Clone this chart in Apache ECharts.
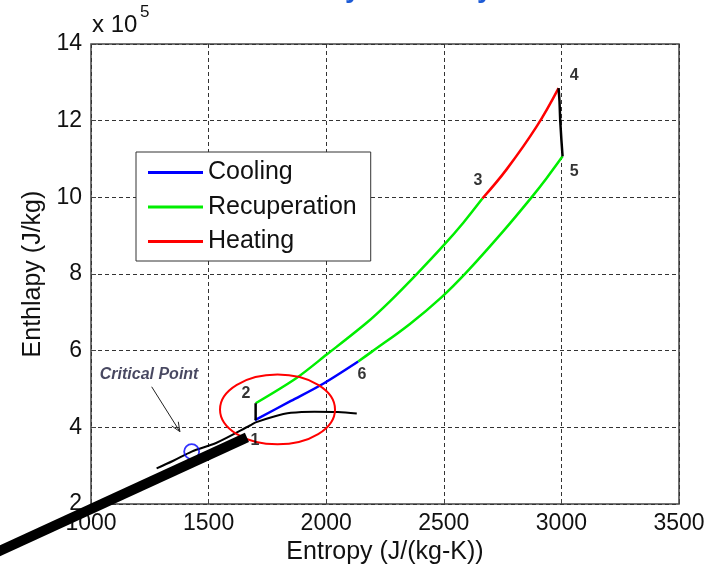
<!DOCTYPE html>
<html>
<head>
<meta charset="utf-8">
<script src="https://cdn.jsdelivr.net/npm/echarts@6/dist/echarts.min.js"></script>
<style>html,body{margin:0;padding:0;background:#fff;}#c{width:720px;height:570px;}</style>
</head>
<body>
<div id="c"></div>
<script>
// Axis ticks
const xTicks = [1000, 1500, 2000, 2500, 3000, 3500];
const yTicks = [200000, 400000, 600000, 800000, 1000000, 1200000, 1400000];

// Saturation dome (black)
const domeS = [1279, 1350, 1428, 1534, 1676, 1700, 1775, 1850, 1950, 2050, 2130];
const domeH = [293000, 313000, 337000, 360000, 405000, 413000, 428000, 438000, 441000, 440000, 436000];

// Cooling (blue) 1 -> 6
const coolS = [1697, 1850, 1987, 2136];
const coolH = [419000, 469000, 514000, 572000];

// Recuperation (green) 2 -> 3 (high pressure side)
const recHiS = [1700, 1874, 2002, 2172, 2271, 2385, 2498, 2583, 2664];
const recHiH = [463000, 529000, 590000, 673000, 729000, 800000, 874000, 934000, 997000];

// Recuperation (green) 6 -> 5 (low pressure side)
const recLoS = [2136, 2193, 2356, 2491, 2597, 2753, 2873, 2937, 3005];
const recLoH = [572000, 597000, 670000, 740000, 805000, 912000, 1000000, 1050000, 1107000];

// Heating (red) 3 -> 4
const heatS = [2664, 2767, 2895, 2988];
const heatH = [997000, 1073000, 1185000, 1285000];

// Compression 1 -> 2 (black vertical)
const compS = [1700, 1700];
const compH = [419000, 463000];

// Expansion 4 -> 5 (black)
const expS = [2988, 2992, 2995, 3000, 3005];
const expH = [1285000, 1250000, 1200000, 1150000, 1107000];

// Critical point marker
const critS = [1428];
const critH = [337000];

// State point labels
const ptNames = ['1', '2', '3', '4', '5', '6'];
const ptS = [1697, 1659, 2645, 3054, 3054, 2152];
const ptH = [366000, 488000, 1044000, 1317000, 1068000, 538000];

// Annotations (data coords)
const critLabel = ['Critical Point', 1247, 537600];
const critArrow = [1258, 506000, 1378, 389000];
const ellipse = [1793, 446800, 244.5, 91000];
const pointer = [528, 54500, 1663, 374000];

const zip = (a, b) => a.map((v, i) => [v, b[i]]);

const chart = echarts.init(document.getElementById('c'), null, {renderer: 'canvas'});
const FONT = 'Liberation Sans, Arial, sans-serif';

chart.setOption({
  animation: false,
  backgroundColor: '#fff',
  grid: {left: 91, right: 41, top: 44, bottom: 64, show: true, borderColor: '#444', borderWidth: 1.5, backgroundColor: '#fff'},
  legend: {
    data: ['Cooling', 'Recuperation', 'Heating'],
    orient: 'vertical', left: 136, top: 152,
    padding: [8, 14, 7, 12],
    itemWidth: 55, itemHeight: 3, itemGap: 9.5,
    icon: 'rect',
    backgroundColor: '#fff', borderColor: '#333', borderWidth: 1,
    textStyle: {fontSize: 25, lineHeight: 24, color: '#111', fontFamily: FONT}
  },
  xAxis: {
    type: 'value', min: 1000, max: 3500, interval: 500,
    name: 'Entropy (J/(kg-K))', nameLocation: 'middle', nameGap: 35,
    nameTextStyle: {fontSize: 25, color: '#111', fontFamily: FONT},
    axisLine: {show: false},
    axisTick: {show: true, inside: true, length: 5, lineStyle: {color: '#444'}},
    axisLabel: {fontSize: 23, color: '#111', margin: 8, fontFamily: FONT, formatter: v => String(v)},
    splitLine: {show: true, lineStyle: {color: '#333', type: [4, 3], width: 1}}
  },
  yAxis: {
    type: 'value', min: 200000, max: 1400000, interval: 200000,
    name: 'Enthlapy (J/kg)', nameLocation: 'middle', nameGap: 43,
    nameTextStyle: {fontSize: 25, color: '#111', fontFamily: FONT},
    axisLine: {show: false},
    axisTick: {show: true, inside: true, length: 5, lineStyle: {color: '#444'}},
    axisLabel: {fontSize: 23, color: '#111', margin: 9, fontFamily: FONT, formatter: v => String(v / 100000)},
    splitLine: {show: true, lineStyle: {color: '#333', type: [4, 3], width: 1}}
  },
  graphic: [
    {type: 'text', left: 92, top: 13, style: {text: 'x 10', fontSize: 24, fill: '#111', fontFamily: FONT}},
    {type: 'text', left: 140, top: 4, style: {text: '5', fontSize: 17, fill: '#111', fontFamily: FONT}},
    {type: 'text', x: 345, y: 3, style: {text: 'y', fontSize: 28, fontWeight: 'bold', fill: '#1d5bd6', fontFamily: FONT, verticalAlign: 'bottom'}},
    {type: 'text', x: 477, y: 3, style: {text: 'y', fontSize: 28, fontWeight: 'bold', fill: '#1d5bd6', fontFamily: FONT, verticalAlign: 'bottom'}}
  ],
  series: [
    {name: 'dome', type: 'line', data: zip(domeS, domeH), smooth: 0.3, symbol: 'none',
     lineStyle: {color: '#000', width: 2}, z: 3},
    {name: 'Cooling', type: 'line', data: zip(coolS, coolH), symbol: 'none', smooth: 0.3,
     lineStyle: {color: '#0000ff', width: 2.5}, itemStyle: {color: '#0000ff'}, z: 4},
    {name: 'Recuperation', type: 'line', data: zip(recHiS, recHiH), symbol: 'none', smooth: 0.3,
     lineStyle: {color: '#00ee00', width: 2.5}, itemStyle: {color: '#00ee00'}, z: 4},
    {name: 'Recuperation', type: 'line', data: zip(recLoS, recLoH), symbol: 'none', smooth: 0.4,
     lineStyle: {color: '#00ee00', width: 2.5}, itemStyle: {color: '#00ee00'}, z: 4},
    {name: 'Heating', type: 'line', data: zip(heatS, heatH), symbol: 'none', smooth: 0.4,
     lineStyle: {color: '#ff0000', width: 2.5}, itemStyle: {color: '#ff0000'}, z: 4},
    {name: 'comp', type: 'line', data: zip(compS, compH), symbol: 'none',
     lineStyle: {color: '#000', width: 2.5}, z: 4},
    {name: 'exp', type: 'line', data: zip(expS, expH), symbol: 'none',
     lineStyle: {color: '#000', width: 2.5}, z: 4},
    {name: 'crit', type: 'scatter', data: zip(critS, critH), symbol: 'circle', symbolSize: 15,
     itemStyle: {color: 'rgba(0,0,0,0)', borderColor: '#0000ff', borderWidth: 1.8}, z: 5},
    {name: 'ellipse', type: 'custom', clip: false, silent: true, z: 6,
     data: [ellipse],
     renderItem: (params, api) => {
       const c = api.coord([api.value(0), api.value(1)]);
       const s = api.size([api.value(2), api.value(3)]);
       return {type: 'ellipse', shape: {cx: c[0], cy: c[1], rx: s[0], ry: s[1]},
               style: {fill: null, stroke: '#ff0000', lineWidth: 2}};
     }},
    {name: 'arrow', type: 'custom', clip: false, silent: true, z: 6,
     data: [critArrow],
     renderItem: (params, api) => {
       const a = api.coord([api.value(0), api.value(1)]);
       const b = api.coord([api.value(2), api.value(3)]);
       const ang = Math.atan2(b[1] - a[1], b[0] - a[0]);
       const L = 10, sp = 0.4;
       const h1 = [b[0] - L * Math.cos(ang - sp), b[1] - L * Math.sin(ang - sp)];
       const h2 = [b[0] - L * Math.cos(ang + sp), b[1] - L * Math.sin(ang + sp)];
       return {type: 'group', children: [
         {type: 'line', shape: {x1: a[0], y1: a[1], x2: b[0], y2: b[1]}, style: {stroke: '#222', lineWidth: 1}},
         {type: 'polyline', shape: {points: [h1, b, h2]}, style: {stroke: '#222', lineWidth: 1, fill: null}}
       ]};
     }},
    {name: 'pointer', type: 'custom', clip: false, silent: true, z: 8,
     data: [pointer],
     renderItem: (params, api) => {
       const a = api.coord([api.value(0), api.value(1)]);
       const b = api.coord([api.value(2), api.value(3)]);
       return {type: 'line', shape: {x1: a[0], y1: a[1], x2: b[0], y2: b[1]},
               style: {stroke: '#000', lineWidth: 10, lineCap: 'butt'}};
     }},
    {name: 'labels', type: 'scatter', clip: false, symbolSize: 1,
     data: ptNames.map((n, i) => [ptS[i], ptH[i], n]),
     itemStyle: {color: 'rgba(0,0,0,0)'},
     label: {show: true, position: 'inside', formatter: p => p.data[2], fontSize: 16, fontWeight: 'bold', color: '#000', fontFamily: FONT}, z: 9},
    {name: 'critText', type: 'scatter', clip: false, symbolSize: 1,
     data: [[critLabel[1], critLabel[2], critLabel[0]]],
     itemStyle: {color: 'rgba(0,0,0,0)'},
     label: {show: true, position: 'inside', formatter: p => p.data[2], fontSize: 16, fontWeight: 'bold', fontStyle: 'italic', color: '#1a1a3a', fontFamily: FONT}, z: 9}
  ]
});
</script>
</body>
</html>
